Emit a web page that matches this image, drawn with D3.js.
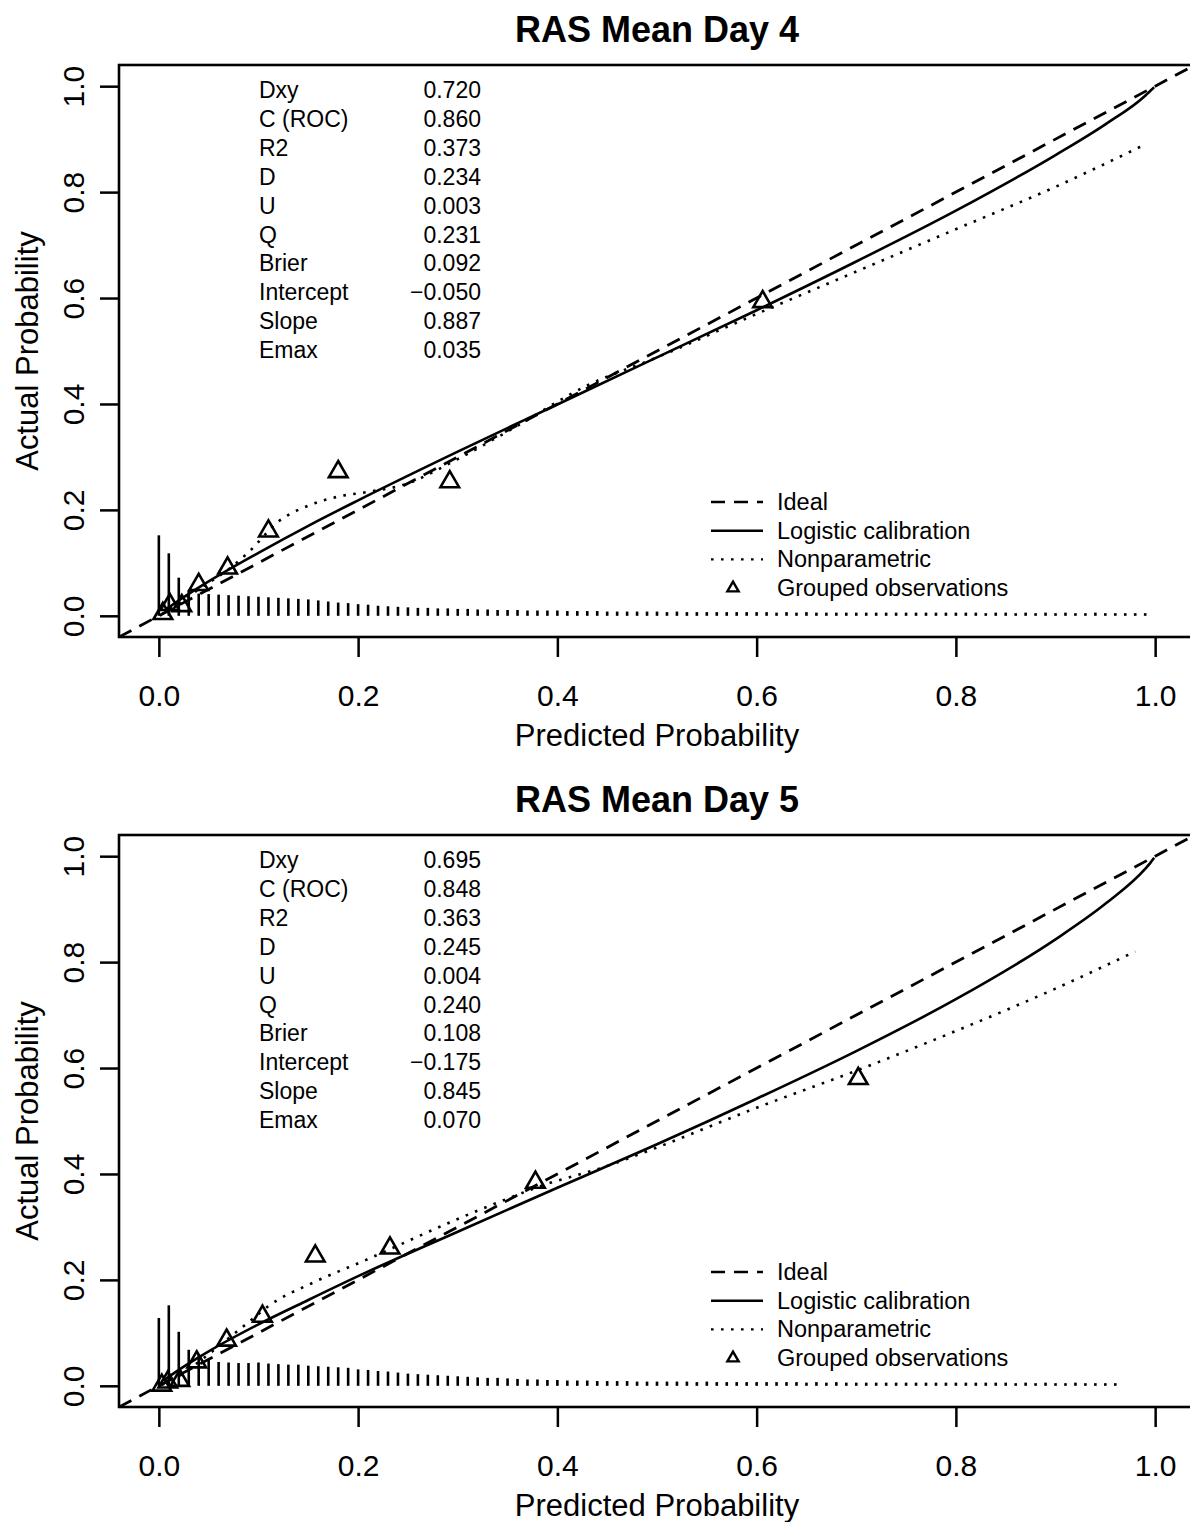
<!DOCTYPE html>
<html>
<head>
<meta charset="utf-8">
<script src="https://cdn.jsdelivr.net/npm/d3@7"></script>
<style>
body { margin: 0; background: #fff; }
svg { font-family: "Liberation Sans", Arial, Helvetica, sans-serif; }
</style>
</head>
<body>
<svg></svg>
<script>
// values
let titles = ['RAS Mean Day 4', 'RAS Mean Day 5']
let xTicks = [0, 0.2, 0.4, 0.6, 0.8, 1.0]
let yTicks = [0, 0.2, 0.4, 0.6, 0.8, 1.0]

let statLabels = ['Dxy', 'C (ROC)', 'R2', 'D', 'U', 'Q', 'Brier', 'Intercept', 'Slope', 'Emax']
let day4Stats = ['0.720', '0.860', '0.373', '0.234', '0.003', '0.231', '0.092', '\u22120.050', '0.887', '0.035']
let day5Stats = ['0.695', '0.848', '0.363', '0.245', '0.004', '0.240', '0.108', '\u22120.175', '0.845', '0.070']

let legendLabels = ['Ideal', 'Logistic calibration', 'Nonparametric', 'Grouped observations']

let day4Logistic = [[0.005, 0.009], [0.01, 0.016], [0.02, 0.029], [0.05, 0.065], [0.1, 0.119], [0.15, 0.17],
    [0.2, 0.218], [0.3, 0.31], [0.4, 0.399], [0.5, 0.488], [0.6, 0.577], [0.7, 0.669], [0.8, 0.765],
    [0.9, 0.87], [0.95, 0.928], [0.99, 0.982], [0.995, 0.991], [0.999, 0.998]]
let day5Logistic = [[0.005, 0.01], [0.01, 0.017], [0.02, 0.03], [0.05, 0.065], [0.1, 0.116], [0.15, 0.162],
    [0.2, 0.207], [0.3, 0.291], [0.4, 0.374], [0.5, 0.456], [0.6, 0.542], [0.7, 0.632], [0.8, 0.73],
    [0.9, 0.843], [0.95, 0.91], [0.99, 0.976], [0.995, 0.987], [0.999, 0.997]]

let day4Smooth = [[0.003, 0.003], [0.02, 0.024], [0.04, 0.05], [0.07, 0.088], [0.09, 0.12], [0.12, 0.178],
    [0.15, 0.208], [0.18, 0.225], [0.21, 0.234], [0.245, 0.247], [0.3, 0.296], [0.35, 0.348], [0.43, 0.435],
    [0.5, 0.488], [0.6, 0.57], [0.7, 0.65], [0.8, 0.73], [0.9, 0.81], [0.99, 0.89]]
let day5Smooth = [[0.003, 0.002], [0.02, 0.018], [0.04, 0.045], [0.07, 0.09], [0.09, 0.12], [0.111, 0.152],
    [0.155, 0.195], [0.212, 0.241], [0.232, 0.258], [0.3, 0.315], [0.355, 0.357], [0.38, 0.375],
    [0.45, 0.415], [0.5, 0.45], [0.6, 0.525], [0.7, 0.595], [0.8, 0.67], [0.9, 0.75], [0.98, 0.82]]

let day4Groups = [[0.004, 0.004], [0.011, 0.021], [0.023, 0.019], [0.040, 0.059], [0.069, 0.090],
    [0.110, 0.160], [0.180, 0.272], [0.292, 0.253], [0.606, 0.593]]
let day5Groups = [[0.003, 0.001], [0.009, 0.007], [0.021, 0.010], [0.038, 0.045], [0.068, 0.086],
    [0.104, 0.131], [0.157, 0.245], [0.232, 0.260], [0.378, 0.384], [0.702, 0.580]]

// rug of predicted risks (bins of 0.01) and their heights
let riskBins = [0.00, 0.01, 0.02, 0.03, 0.04, 0.05, 0.06, 0.07, 0.08, 0.09,
    0.10, 0.11, 0.12, 0.13, 0.14, 0.15, 0.16, 0.17, 0.18, 0.19,
    0.20, 0.21, 0.22, 0.23, 0.24, 0.25, 0.26, 0.27, 0.28, 0.29,
    0.30, 0.31, 0.32, 0.33, 0.34, 0.35, 0.36, 0.37, 0.38, 0.39,
    0.40, 0.41, 0.42, 0.43, 0.44, 0.45, 0.46, 0.47, 0.48, 0.49,
    0.50, 0.51, 0.52, 0.53, 0.54, 0.55, 0.56, 0.57, 0.58, 0.59,
    0.60, 0.61, 0.62, 0.63, 0.64, 0.65, 0.66, 0.67, 0.68, 0.69,
    0.70, 0.71, 0.72, 0.73, 0.74, 0.75, 0.76, 0.77, 0.78, 0.79,
    0.80, 0.81, 0.82, 0.83, 0.84, 0.85, 0.86, 0.87, 0.88, 0.89,
    0.90, 0.91, 0.92, 0.93, 0.94, 0.95, 0.96, 0.97, 0.98, 0.99]
let day4Rug = [0.152, 0.118, 0.072, 0.048, 0.042, 0.041, 0.040, 0.039, 0.038, 0.037,
    0.036, 0.035, 0.034, 0.033, 0.032, 0.031, 0.029, 0.027, 0.025, 0.024,
    0.022, 0.021, 0.019, 0.018, 0.017, 0.016, 0.015, 0.015, 0.014, 0.014,
    0.013, 0.013, 0.012, 0.012, 0.011, 0.011, 0.011, 0.010, 0.010, 0.010,
    0.010, 0.009, 0.009, 0.009, 0.009, 0.008, 0.008, 0.008, 0.008, 0.008,
    0.008, 0.007, 0.008, 0.007, 0.007, 0.007, 0.007, 0.007, 0.007, 0.007,
    0.007, 0.007, 0.006, 0.007, 0.006, 0.007, 0.006, 0.006, 0.006, 0.006,
    0.006, 0.006, 0.006, 0.006, 0.006, 0.006, 0.006, 0.006, 0.006, 0.006,
    0.006, 0.006, 0.006, 0.005, 0.006, 0.006, 0.005, 0.006, 0.005, 0.006,
    0.005, 0.006, 0.005, 0.005, 0.006, 0.005, 0.005, 0.005, 0.005, 0.005]
let day5Rug = [0.128, 0.152, 0.102, 0.068, 0.060, 0.050, 0.045, 0.044, 0.043, 0.043,
    0.044, 0.042, 0.041, 0.040, 0.040, 0.038, 0.037, 0.036, 0.035, 0.034,
    0.031, 0.030, 0.028, 0.027, 0.025, 0.023, 0.022, 0.021, 0.020, 0.019,
    0.018, 0.017, 0.016, 0.015, 0.015, 0.014, 0.013, 0.012, 0.012, 0.011,
    0.011, 0.010, 0.010, 0.010, 0.009, 0.009, 0.009, 0.009, 0.008, 0.008,
    0.008, 0.008, 0.008, 0.008, 0.007, 0.008, 0.007, 0.007, 0.007, 0.007,
    0.007, 0.007, 0.007, 0.007, 0.007, 0.006, 0.007, 0.006, 0.007, 0.006,
    0.006, 0.006, 0.006, 0.006, 0.006, 0.006, 0.006, 0.006, 0.006, 0.006,
    0.006, 0.006, 0.006, 0.006, 0.006, 0.006, 0.005, 0.006, 0.005, 0.006,
    0.005, 0.005, 0.006, 0.005, 0.005, 0.005, 0.005]

let width = 1190
let height = 1522
let left = 119
let right = 1195
let boxHeight = 572

let panels = [
    {top: 65, title: titles[0], stats: day4Stats, logistic: day4Logistic, smooth: day4Smooth, groups: day4Groups, rug: day4Rug},
    {top: 835, title: titles[1], stats: day5Stats, logistic: day5Logistic, smooth: day5Smooth, groups: day5Groups, rug: day5Rug}
]

let svg = d3.select('svg')
    .attr('width', width)
    .attr('height', height)

let xScale = d3.scaleLinear()
    .domain([-0.04, 1.04])
    .range([left, right])

let dashed = '14,9'
let dotted = '2.6,7.4'
let triangle = d3.symbol().type(d3.symbolTriangle)

let drawPanel = (p, i) => {
    let yScale = d3.scaleLinear()
        .domain([-0.04, 1.04])
        .range([p.top + boxHeight, p.top])

    let g = svg.append('g')

    svg.append('clipPath')
       .attr('id', 'clip' + i)
       .append('rect')
       .attr('x', left)
       .attr('y', p.top)
       .attr('width', right - left)
       .attr('height', boxHeight)

    // title
    g.append('text')
     .attr('x', (left + right) / 2)
     .attr('y', p.top - 23)
     .attr('text-anchor', 'middle')
     .attr('font-size', 36)
     .attr('font-weight', 'bold')
     .text(p.title)

    // axes
    let xAxis = d3.axisBottom(xScale)
        .tickValues(xTicks)
        .tickSize(20)
        .tickPadding(28)
        .tickFormat(d3.format('.1f'))

    let xg = g.append('g')
        .attr('transform', 'translate(0, ' + (p.top + boxHeight) + ')')
        .call(xAxis)
    xg.select('.domain').remove()
    xg.selectAll('line').attr('stroke-width', 2.5)
    xg.selectAll('text').attr('font-size', 30).attr('font-family', null)

    let yAxis = d3.axisLeft(yScale)
        .tickValues(yTicks)
        .tickSize(19)
        .tickFormat(d3.format('.1f'))

    let yg = g.append('g')
        .attr('transform', 'translate(' + left + ', 0)')
        .call(yAxis)
    yg.select('.domain').remove()
    yg.selectAll('line').attr('stroke-width', 2.5)
    yg.selectAll('text')
      .attr('font-size', 30)
      .attr('font-family', null)
      .attr('x', 0)
      .attr('dy', 0)
      .attr('text-anchor', 'middle')
      .attr('transform', 'translate(-35, 0) rotate(-90)')

    g.append('text')
     .attr('x', (left + right) / 2)
     .attr('y', p.top + boxHeight + 109)
     .attr('text-anchor', 'middle')
     .attr('font-size', 31)
     .text('Predicted Probability')

    g.append('text')
     .attr('transform', 'translate(38, ' + (p.top + boxHeight / 2) + ') rotate(-90)')
     .attr('text-anchor', 'middle')
     .attr('font-size', 31)
     .text('Actual Probability')

    let plot = g.append('g').attr('clip-path', 'url(#clip' + i + ')')

    // rug of predicted risks
    plot.selectAll('.rug')
        .data(p.rug)
        .enter()
        .append('line')
        .attr('class', 'rug')
        .attr('x1', (d, j) => xScale(riskBins[j]))
        .attr('x2', (d, j) => xScale(riskBins[j]))
        .attr('y1', yScale(0))
        .attr('y2', (d) => yScale(d))
        .attr('stroke', '#000')
        .attr('stroke-width', 2.6)

    // ideal
    plot.append('line')
        .attr('x1', xScale(-0.04))
        .attr('y1', yScale(-0.04))
        .attr('x2', xScale(1.04))
        .attr('y2', yScale(1.04))
        .attr('stroke', '#000')
        .attr('stroke-width', 2.8)
        .attr('stroke-dasharray', dashed)

    let line = d3.line()
        .x((d) => xScale(d[0]))
        .y((d) => yScale(d[1]))
        .curve(d3.curveMonotoneX)

    plot.append('path')
        .datum(p.logistic)
        .attr('d', line)
        .attr('fill', 'none')
        .attr('stroke', '#000')
        .attr('stroke-width', 2.6)

    plot.append('path')
        .datum(p.smooth)
        .attr('d', line)
        .attr('fill', 'none')
        .attr('stroke', '#000')
        .attr('stroke-width', 2.6)
        .attr('stroke-dasharray', dotted)

    plot.selectAll('.grp')
        .data(p.groups)
        .enter()
        .append('path')
        .attr('class', 'grp')
        .attr('d', triangle.size(150))
        .attr('transform', (d) => 'translate(' + xScale(d[0]) + ',' + yScale(d[1]) + ')')
        .attr('fill', 'none')
        .attr('stroke', '#000')
        .attr('stroke-width', 2.6)

    // box
    g.append('rect')
     .attr('x', left)
     .attr('y', p.top)
     .attr('width', right - left)
     .attr('height', boxHeight)
     .attr('fill', 'none')
     .attr('stroke', '#000')
     .attr('stroke-width', 2.6)

    // statistics block
    g.selectAll('.statLabel')
     .data(statLabels)
     .enter()
     .append('text')
     .attr('class', 'statLabel')
     .attr('x', 259)
     .attr('y', (d, j) => p.top + 33 + j * 28.9)
     .attr('font-size', 23)
     .text((d) => d)

    g.selectAll('.statValue')
     .data(p.stats)
     .enter()
     .append('text')
     .attr('class', 'statValue')
     .attr('x', 481)
     .attr('y', (d, j) => p.top + 33 + j * 28.9)
     .attr('text-anchor', 'end')
     .attr('font-size', 23)
     .text((d) => d)

    // legend
    let legendTop = p.top + 437
    let keys = g.selectAll('.key')
        .data(legendLabels)
        .enter()
        .append('g')
        .attr('class', 'key')
        .attr('transform', (d, j) => 'translate(711, ' + (legendTop + j * 28.7) + ')')

    keys.append('text')
        .attr('x', 66)
        .attr('y', 8)
        .attr('font-size', 23.5)
        .text((d) => d)

    keys.filter((d, j) => j < 3)
        .append('line')
        .attr('x1', 0)
        .attr('x2', 52)
        .attr('stroke', '#000')
        .attr('stroke-width', 2.4)
        .attr('stroke-dasharray', (d, j) => j == 0 ? dashed : (j == 2 ? dotted : null))

    keys.filter((d, j) => j == 3)
        .append('path')
        .attr('d', triangle.size(55))
        .attr('transform', 'translate(22, 0)')
        .attr('fill', 'none')
        .attr('stroke', '#000')
        .attr('stroke-width', 2.4)
}

panels.forEach(drawPanel)
</script>
</body>
</html>
